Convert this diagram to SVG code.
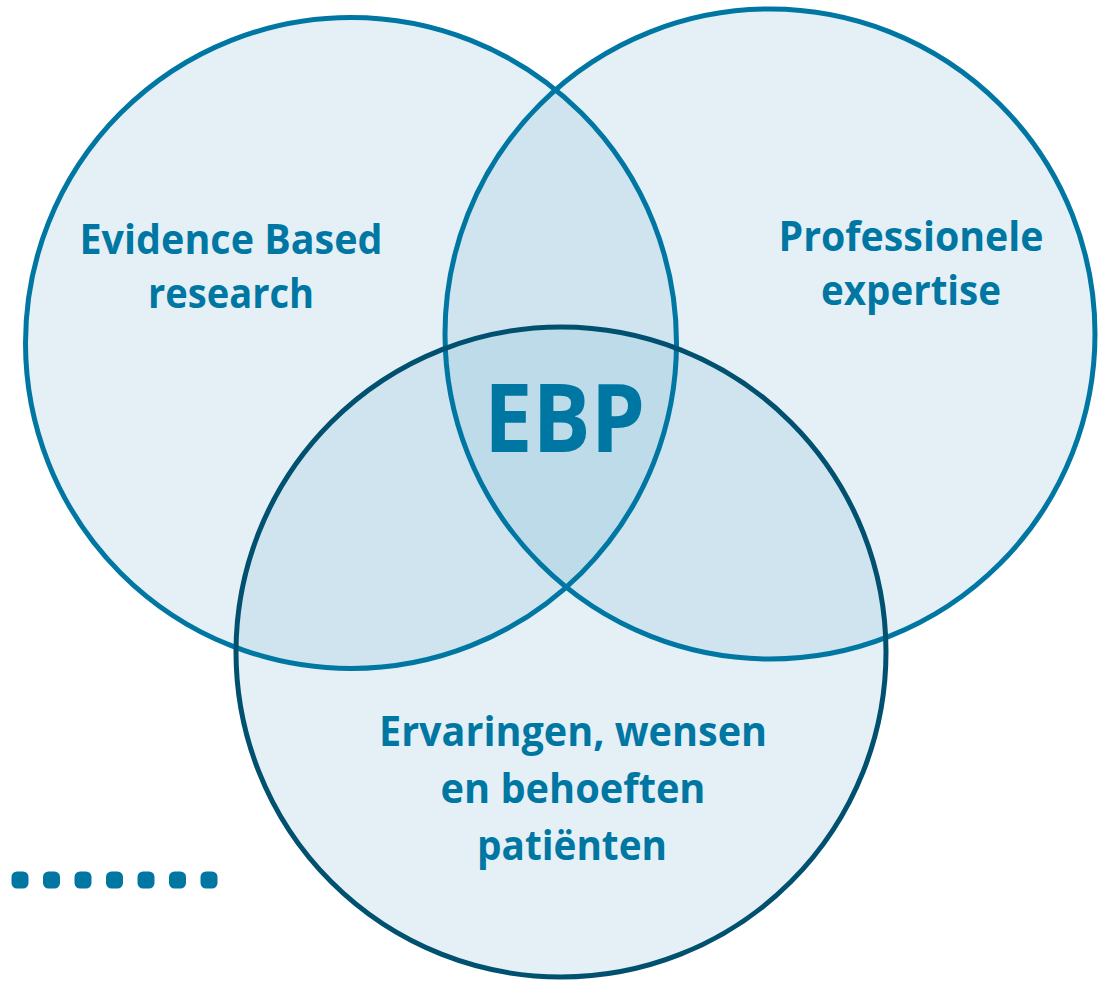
<svg xmlns="http://www.w3.org/2000/svg" width="1107" height="983" viewBox="0 0 1107 983">
<style>
.fill{fill:#84bbd6;fill-opacity:0.22;stroke:none}
.ring{fill:none;stroke:#0077a3;stroke-width:5}
.ring.dark{stroke:#00506f}
.lbl{font-family:"Open Sans","Noto Sans",sans-serif;font-weight:700;fill:#0077a3;text-anchor:middle}
.dot{fill:#0077a3}
</style>
<rect width="1107" height="983" fill="#ffffff"/>
<g id="fills">
<circle class="fill" cx="351" cy="343" r="325.5"/>
<circle class="fill" cx="770" cy="334" r="325"/>
<circle class="fill" cx="561" cy="652" r="325"/>
</g>
<g id="node-research">
<circle class="ring" cx="351" cy="343" r="325.5"/>
<text class="lbl" font-size="42"><tspan x="231" y="254" textLength="303" lengthAdjust="spacingAndGlyphs">Evidence Based</tspan><tspan x="231" y="308" textLength="166" lengthAdjust="spacingAndGlyphs">research</tspan></text>
</g>
<g id="node-expertise">
<circle class="ring" cx="770" cy="334" r="325"/>
<text class="lbl" font-size="42"><tspan x="911" y="251" textLength="265" lengthAdjust="spacingAndGlyphs">Professionele</tspan><tspan x="911" y="305" textLength="180" lengthAdjust="spacingAndGlyphs">expertise</tspan></text>
</g>
<g id="node-patienten">
<circle class="ring dark" cx="561" cy="652" r="325"/>
<text class="lbl" font-size="42"><tspan x="573" y="746" textLength="388" lengthAdjust="spacingAndGlyphs">Ervaringen, wensen</tspan><tspan x="573" y="803" textLength="265" lengthAdjust="spacingAndGlyphs">en behoeften</tspan><tspan x="572" y="860" textLength="190" lengthAdjust="spacingAndGlyphs">patiënten</tspan></text>
</g>
<g id="node-ebp">
<text class="lbl" font-size="95" x="564.5" y="452" textLength="161" lengthAdjust="spacingAndGlyphs">EBP</text>
</g>
<g id="connectors"></g>
<g id="dots">
<rect class="dot" x="11.5" y="871.5" width="17" height="17" rx="5.5"/>
<rect class="dot" x="43" y="871.5" width="17" height="17" rx="5.5"/>
<rect class="dot" x="74.5" y="871.5" width="17" height="17" rx="5.5"/>
<rect class="dot" x="106" y="871.5" width="17" height="17" rx="5.5"/>
<rect class="dot" x="137.5" y="871.5" width="17" height="17" rx="5.5"/>
<rect class="dot" x="169" y="871.5" width="17" height="17" rx="5.5"/>
<rect class="dot" x="200.5" y="871.5" width="17" height="17" rx="5.5"/>
</g>
</svg>
